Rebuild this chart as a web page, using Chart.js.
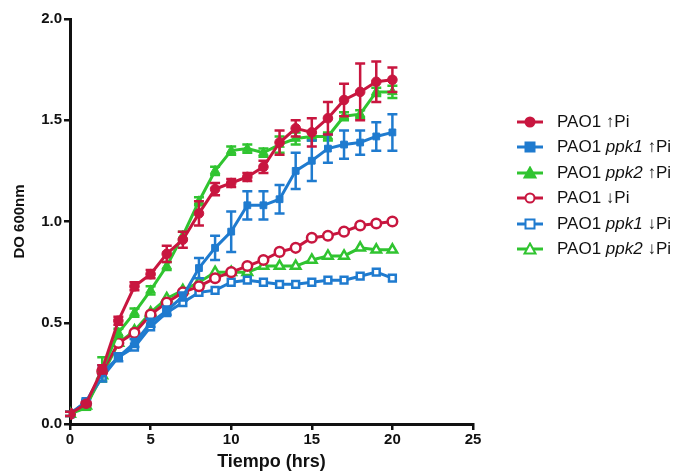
<!DOCTYPE html>
<html>
<head>
<meta charset="utf-8">
<script src="https://cdn.jsdelivr.net/npm/chart.js@4.4.1/dist/chart.umd.min.js"></script>
<style>
  html, body { margin: 0; padding: 0; background: #fff; }
  #wrap { position: relative; width: 689px; height: 475px; }
  #legend {
    position: absolute; left: 517px; top: 109px;
    font-family: "Liberation Sans", Arial, sans-serif; font-size: 17px; color: #111;
  }
  #legend .row { height: 25.5px; display: flex; align-items: center; white-space: nowrap; }
  #legend svg { margin-right: 14px; flex: none; }
</style>
</head>
<body>
<div id="wrap">
  <canvas id="c" width="689" height="475"></canvas>
  <div id="legend"></div>
</div>
<script>
// Tiempo (hrs) de cada lectura
const TIME = [0, 1, 2, 3, 4, 5, 6, 7, 8, 9, 10, 11, 12, 13, 14, 15, 16, 17, 18, 19, 20];

// DO 600nm con Pi alto (media y error)
const PAO1_UP      = [0.05, 0.10, 0.27, 0.51, 0.68, 0.74, 0.84, 0.91, 1.04, 1.16, 1.19, 1.22, 1.27, 1.39, 1.46, 1.44, 1.51, 1.60, 1.64, 1.69, 1.70];
const PAO1_UP_ERR  = [0.01, 0.01, 0.02, 0.02, 0.02, 0.02, 0.04, 0.04, 0.06, 0.03, 0.02, 0.02, 0.03, 0.06, 0.04, 0.07, 0.08, 0.08, 0.14, 0.10, 0.06];
const PPK1_UP      = [0.05, 0.11, 0.25, 0.33, 0.40, 0.50, 0.56, 0.63, 0.77, 0.87, 0.95, 1.08, 1.08, 1.11, 1.25, 1.30, 1.36, 1.38, 1.39, 1.42, 1.44];
const PPK1_UP_ERR  = [0.01, 0.01, 0.04, 0.02, 0.02, 0.02, 0.02, 0.02, 0.05, 0.06, 0.10, 0.07, 0.07, 0.07, 0.09, 0.10, 0.07, 0.07, 0.06, 0.07, 0.09];
const PPK2_UP      = [0.05, 0.08, 0.27, 0.45, 0.55, 0.66, 0.78, 0.93, 1.10, 1.25, 1.35, 1.36, 1.34, 1.38, 1.41, 1.42, 1.42, 1.52, 1.53, 1.64, 1.64];
const PPK2_UP_ERR  = [0.01, 0.01, 0.06, 0.02, 0.02, 0.02, 0.02, 0.02, 0.02, 0.02, 0.02, 0.02, 0.02, 0.04, 0.03, 0.02, 0.02, 0.02, 0.02, 0.02, 0.03];

// DO 600nm con Pi bajo
const PAO1_DOWN = [0.05, 0.10, 0.26, 0.40, 0.45, 0.54, 0.60, 0.65, 0.68, 0.72, 0.75, 0.78, 0.81, 0.85, 0.87, 0.92, 0.93, 0.95, 0.98, 0.99, 1.00];
const PPK1_DOWN = [0.05, 0.11, 0.23, 0.33, 0.38, 0.48, 0.55, 0.60, 0.65, 0.66, 0.70, 0.71, 0.70, 0.69, 0.69, 0.70, 0.71, 0.71, 0.73, 0.75, 0.72];
const PPK2_DOWN = [0.05, 0.09, 0.24, 0.40, 0.46, 0.55, 0.62, 0.66, 0.70, 0.75, 0.75, 0.75, 0.78, 0.78, 0.78, 0.81, 0.83, 0.83, 0.87, 0.86, 0.86];

// Textos de la leyenda: [normal, cursiva, normal]
const LEGEND_TEXT = [
  ["PAO1 ", "", "↑Pi"],
  ["PAO1 ", "ppk1", " ↑Pi"],
  ["PAO1 ", "ppk2", " ↑Pi"],
  ["PAO1 ", "", "↓Pi"],
  ["PAO1 ", "ppk1", " ↓Pi"],
  ["PAO1 ", "ppk2", " ↓Pi"],
];

const RED = "#c8163f";
const BLUE = "#1f7bcf";
const GREEN = "#30c430";

const pts = (vals) => TIME.map((t, i) => ({ x: t, y: vals[i] }));

function serie(vals, errs, color, shape, filled) {
  return {
    data: pts(vals),
    errors: errs,
    shape: shape,
    filled: filled,
    borderColor: color,
    backgroundColor: color,
    borderWidth: 3,
    pointStyle: shape,
    pointRadius: shape === "triangle" ? 5.5 : 4.8,
    pointBorderWidth: filled ? 1 : 2.5,
    pointBackgroundColor: filled ? color : "#fff",
    pointBorderColor: color,
    tension: 0,
  };
}

const datasets = [
  serie(PAO1_UP, PAO1_UP_ERR, RED, "circle", true),
  serie(PPK1_UP, PPK1_UP_ERR, BLUE, "rect", true),
  serie(PPK2_UP, PPK2_UP_ERR, GREEN, "triangle", true),
  serie(PAO1_DOWN, null, RED, "circle", false),
  serie(PPK1_DOWN, null, BLUE, "rect", false),
  serie(PPK2_DOWN, null, GREEN, "triangle", false),
];

// barras de error (media ± error), dibujadas con la escala y del gráfico
const errorBars = {
  id: "errorBars",
  beforeDatasetDraw(chart, args) {
    const ds = chart.data.datasets[args.index];
    if (!ds.errors) return;
    const ctx = chart.ctx;
    const ys = chart.scales.y;
    ctx.save();
    ctx.strokeStyle = ds.borderColor;
    ctx.lineWidth = 2.5;
    args.meta.data.forEach((p, i) => {
      const e = ds.errors[i];
      if (!e) return;
      const v = ds.data[i].y;
      const top = ys.getPixelForValue(v + e);
      const bot = ys.getPixelForValue(v - e);
      ctx.beginPath();
      ctx.moveTo(p.x, top); ctx.lineTo(p.x, bot);
      ctx.moveTo(p.x - 5, top); ctx.lineTo(p.x + 5, top);
      ctx.moveTo(p.x - 5, bot); ctx.lineTo(p.x + 5, bot);
      ctx.stroke();
    });
    ctx.restore();
  },
};

const tickFont = { family: "Liberation Sans", size: 15, weight: "bold" };

new Chart(document.getElementById("c"), {
  type: "line",
  data: { datasets: datasets },
  plugins: [errorBars],
  options: {
    responsive: false,
    animation: false,
    layout: { padding: { top: 19, right: 216, bottom: 0, left: 0 } },
    plugins: { legend: { display: false }, tooltip: { enabled: false } },
    scales: {
      x: {
        type: "linear",
        min: 0, max: 25,
        afterFit: (s) => { s.height = 51; },
        ticks: { stepSize: 5, color: "#111", font: tickFont, padding: 1 },
        grid: { drawOnChartArea: false, drawTicks: true, tickLength: 6, color: "#111", lineWidth: 2.5 },
        border: { color: "#111", width: 3 },
        title: {
          display: true, text: "Tiempo (hrs)", color: "#111",
          font: { family: "Liberation Sans", size: 18, weight: "bold" },
          padding: { top: 0, bottom: 2 },
        },
      },
      y: {
        min: 0, max: 2,
        afterFit: (s) => { s.width = 70; },
        ticks: { stepSize: 0.5, color: "#111", font: tickFont, padding: 2, callback: (v) => v.toFixed(1) },
        grid: { drawOnChartArea: false, drawTicks: true, tickLength: 6, color: "#111", lineWidth: 2.5 },
        border: { color: "#111", width: 3 },
        title: {
          display: true, text: "DO 600nm", color: "#111",
          font: { family: "Liberation Sans", size: 15, weight: "bold" },
          padding: { top: 11, bottom: 0 },
        },
      },
    },
  },
});

// leyenda en HTML (para poder poner ppk1 / ppk2 en cursiva)
function glyph(ds) {
  const c = ds.borderColor;
  const fill = ds.filled ? c : "#fff";
  let m;
  if (ds.shape === "circle") m = `<circle cx="13" cy="7" r="4.5" fill="${fill}" stroke="${c}" stroke-width="2"/>`;
  else if (ds.shape === "rect") m = `<rect x="8.5" y="2.5" width="9" height="9" fill="${fill}" stroke="${c}" stroke-width="2"/>`;
  else m = `<polygon points="13,1.5 18.5,11.5 7.5,11.5" fill="${fill}" stroke="${c}" stroke-width="2"/>`;
  return `<svg width="26" height="14"><line x1="0" y1="7" x2="26" y2="7" stroke="${c}" stroke-width="3"/>${m}</svg>`;
}
document.getElementById("legend").innerHTML = datasets.map((ds, i) => {
  const [a, b, c] = LEGEND_TEXT[i];
  return `<div class="row">${glyph(ds)}<span>${a}<i>${b}</i>${c}</span></div>`;
}).join("");
</script>
</body>
</html>
